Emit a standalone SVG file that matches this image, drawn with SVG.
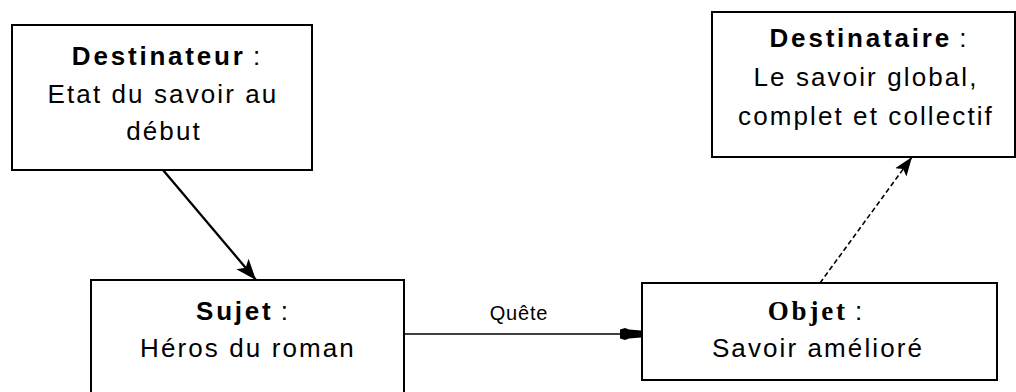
<svg xmlns="http://www.w3.org/2000/svg" width="1016" height="392" viewBox="0 0 1016 392">
<style>
.box{fill:#fff;stroke:#000;stroke-width:2}
.t{font-family:"Liberation Sans",Arial,sans-serif;font-size:26px;letter-spacing:2.1px;fill:#000;text-anchor:middle}
.b{font-weight:bold;letter-spacing:2.8px}
.serif{font-family:"Liberation Serif","Times New Roman",serif;font-size:27px}
.lbl{font-family:"Liberation Sans",Arial,sans-serif;font-size:20px;letter-spacing:0.8px;fill:#000;text-anchor:middle}
.conn{stroke:#000;fill:none}
</style>
<defs>
<marker id="ah" markerWidth="24" markerHeight="18" refX="21" refY="9" orient="auto" markerUnits="userSpaceOnUse">
<path d="M0,1 L21,9 L0,17 L5,9 Z" fill="#000"/>
</marker>
<marker id="ahd" markerWidth="22" markerHeight="16" refX="19" refY="8" orient="auto" markerUnits="userSpaceOnUse">
<path d="M0,1 L19,8 L0,15 L4,8 Z" fill="#000"/>
</marker>
<marker id="ahq" markerWidth="22" markerHeight="14" refX="21" refY="7" orient="auto" markerUnits="userSpaceOnUse">
<path d="M0,2.5 L5,1 L9,2.5 L21,3.5 L21,10.5 L9,11.5 L5,13 L0,11.5 Z" fill="#000"/>
</marker>
</defs>
<rect width="1016" height="392" fill="#fff"/>
<g id="connectors">
<line class="conn" x1="163" y1="170" x2="256" y2="280" stroke-width="2.3" marker-end="url(#ah)"/>
<line class="conn" x1="404" y1="334" x2="641" y2="334" stroke-width="1.5" marker-end="url(#ahq)"/>
<line class="conn" x1="820" y1="283" x2="912" y2="157" stroke-width="1.6" stroke-dasharray="5,3" marker-end="url(#ahd)"/>
<text class="lbl" x="519" y="320">Quête</text>
</g>
<g id="destinateur">
<rect class="box" x="12" y="25" width="300" height="145"/>
<text class="t" x="166" y="65"><tspan class="b">Destinateur</tspan><tspan letter-spacing="0"> :</tspan></text>
<text class="t" x="163" y="103">Etat du savoir au</text>
<text class="t" x="164" y="140">début</text>
</g>
<g id="destinataire">
<rect class="box" x="712" y="12" width="303" height="145"/>
<text class="t" x="868" y="47"><tspan class="b">Destinataire</tspan><tspan letter-spacing="0"> :</tspan></text>
<text class="t" x="866" y="86">Le savoir global,</text>
<text class="t" x="866" y="125" letter-spacing="1.7">complet et collectif</text>
</g>
<g id="sujet">
<rect class="box" x="91" y="280" width="313" height="130"/>
<text class="t" x="242" y="320"><tspan class="b" letter-spacing="2">Sujet</tspan><tspan letter-spacing="0"> :</tspan></text>
<text class="t" x="248" y="357">Héros du roman</text>
</g>
<g id="objet">
<rect class="box" x="642" y="283" width="355" height="97"/>
<text class="t" x="815" y="320"><tspan class="serif b" letter-spacing="2.4">Objet</tspan><tspan letter-spacing="0"> :</tspan></text>
<text class="t" x="818" y="357">Savoir amélioré</text>
</g>
</svg>
